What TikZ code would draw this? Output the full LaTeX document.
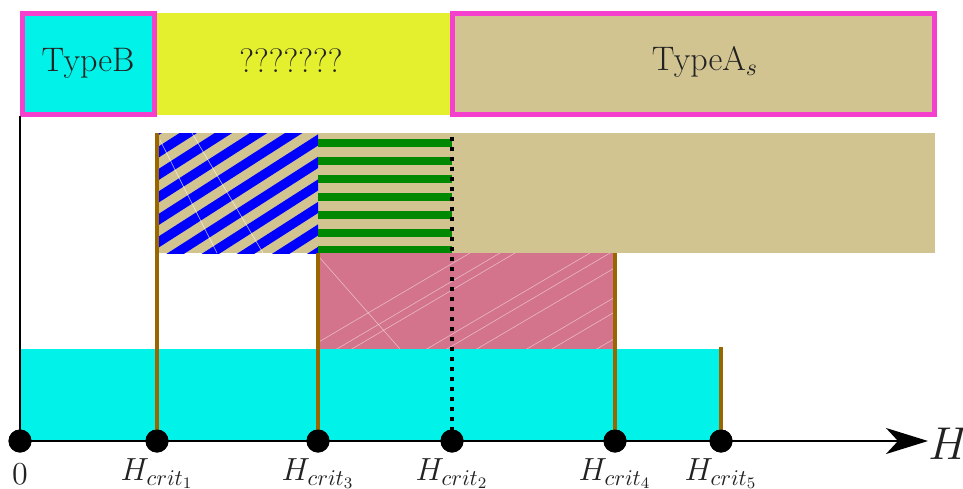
\documentclass[tikz,border=0pt]{standalone}
\usepackage{fix-cm}
\usetikzlibrary{arrows.meta}
\definecolor{cyanA}{RGB}{0,242,232}
\definecolor{yellowA}{RGB}{228,240,45}
\definecolor{magentaA}{RGB}{245,64,205}
\definecolor{tanA}{RGB}{210,196,144}
\definecolor{pinkA}{RGB}{211,116,140}
\definecolor{brownA}{RGB}{153,102,0}
\definecolor{greenA}{RGB}{0,136,0}
\definecolor{blueA}{RGB}{0,0,255}
\definecolor{textA}{RGB}{34,34,34}
\tikzset{
  typebox/.style={draw=magentaA, line width=2.5pt},
  brownline/.style={draw=brownA, line width=2.1pt},
  axisline/.style={draw=black, line width=1.1pt},
  dotnode/.style={circle, fill=black, inner sep=0pt, minimum size=11.5pt},
  lab/.style={inner sep=0pt, text=textA, font=\fontsize{16}{19}\selectfont},
  boxlab/.style={inner sep=0pt, text=textA, font=\fontsize{17}{20}\selectfont},
  faint/.style={draw=white, line width=0.3pt, opacity=0.7}
}
\begin{document}
\begin{tikzpicture}[x=0.5pt,y=-0.5pt]
\useasboundingbox (0,0) rectangle (963,488);
% tan upper band
\fill[tanA] (157,133) rectangle (935,253);
% blue diagonal stripes
\begin{scope}
\clip (157,133) rectangle (318,253);
\foreach \k in {0,...,11} {
  \draw[blueA, line width=4.7pt] (150,{135+22.5*\k}) -- (330,{135+22.5*\k-115.2});
}
\draw[faint] (160,140) -- (217,253);
\draw[faint] (192,133) -- (263,253);
\end{scope}
% green horizontal stripes
\foreach \y in {143,161,179,197,215,232.5,250} {
  \fill[greenA] (318,\y-4) rectangle (452,\y+4);
}
% pink region
\fill[pinkA] (318,253) rectangle (615,349);
\begin{scope}
\clip (318,253) rectangle (615,349);
\foreach \x in {300,330,345,420,440,470,520,545,590,610,640} {
  \draw[faint, opacity=0.5] (\x,353) -- (\x+170,253);
}
\draw[faint, opacity=0.5] (320,258) -- (400,349);
\end{scope}
% cyan lower band
\fill[cyanA] (20,349) rectangle (721,441);
% top bar
\fill[yellowA] (157,13) rectangle (452,115);
\fill[cyanA] (20,11) rectangle (157,117);
\fill[tanA] (452,11) rectangle (935,117);
\draw[typebox] (22.5,13.5) rectangle (154.5,114.5);
\draw[typebox] (452.5,13.5) rectangle (934.5,114.5);
\node[boxlab] (tb) at (88,63) {TypeB};
\node[boxlab] (tq) at (291,61) {???????};
\node[boxlab] (ta) at (705,62) {TypeA$_s$};
% dots on the axis
\node[dotnode] (d0) at (20,441) {};
\node[dotnode] (d1) at (157,441) {};
\node[dotnode] (d3) at (318,441) {};
\node[dotnode] (d2) at (452,441) {};
\node[dotnode] (d4) at (615,441) {};
\node[dotnode] (d5) at (721,441) {};
\coordinate (ytop) at (20,116);
\coordinate (xend) at (928,441);
\coordinate (b1) at (157,133);
\coordinate (b3) at (318,253);
\coordinate (b4) at (615,253);
\coordinate (b5) at (721,347);
\coordinate (dt) at (452,133);
% axes
\draw[axisline] (d0.center) -- (ytop);
\draw[axisline, -{Stealth[length=21pt,width=13pt,inset=6pt]}] (d0.center) -- (xend);
% vertical lines
\draw[brownline] (d1.center) -- (b1);
\draw[brownline] (d3.center) -- (b3);
\draw[brownline] (d4.center) -- (b4);
\draw[brownline, line width=1.8pt] (d5.center) -- (b5);
\draw[black, line width=2.2pt, dash pattern=on 2.2pt off 2.8pt] (d2.center) -- (dt);
% redraw dots on top
\foreach \n in {d0,d1,d2,d3,d4,d5} { \fill[black] (\n) circle (5.75pt); }
% labels
\node[lab, anchor=north] (l0) at (20,463) {$0$};
\node[lab, anchor=north] (l1) at (157,458) {$H_{crit_1}$};
\node[lab, anchor=north] (l3) at (318,458) {$H_{crit_3}$};
\node[lab, anchor=north] (l2) at (452,458) {$H_{crit_2}$};
\node[lab, anchor=north] (l4) at (615,458) {$H_{crit_4}$};
\node[lab, anchor=north] (l5) at (721,458) {$H_{crit_5}$};
\node[inner sep=0pt, anchor=west, text=textA, font=\fontsize{23}{27}\selectfont] (hl) at (928,444) {$H$};
\end{tikzpicture}
\end{document}
